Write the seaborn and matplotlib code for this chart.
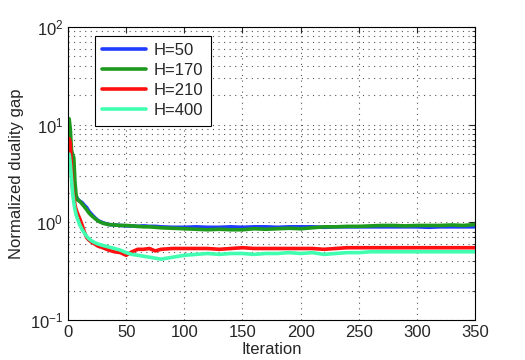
import numpy as np
import pandas as pd
import matplotlib
matplotlib.use('Agg')
import matplotlib.pyplot as plt
import seaborn as sns

sns.set_style('white')
plt.rcParams['font.family'] = ['Liberation Sans', 'DejaVu Sans']
plt.rcParams['mathtext.default'] = 'regular'

iters = [1, 2, 3, 4, 5, 6, 7, 8, 10, 12, 14, 16, 18, 20, 23, 26, 30, 35, 40, 45, 50,
         55, 60, 65, 70, 75, 80, 90, 100, 110, 120, 130, 140, 150, 160, 170, 180,
         190, 200, 210, 220, 230, 240, 250, 260, 270, 280, 290, 300, 310, 320,
         330, 340, 350]

h50 = [9.5, 6.5, 4.2, 3.0, 2.4, 2.0, 1.85, 1.75, 1.65, 1.6, 1.5, 1.42, 1.3, 1.22,
       1.12, 1.04, 0.99, 0.95, 0.94, 0.93, 0.92, 0.92, 0.91, 0.92, 0.91, 0.91,
       0.9, 0.89, 0.89, 0.9, 0.89, 0.89, 0.9, 0.89, 0.9, 0.9, 0.89, 0.9, 0.9,
       0.9, 0.89, 0.9, 0.9, 0.9, 0.9, 0.9, 0.9, 0.9, 0.9, 0.89, 0.9, 0.9, 0.9, 0.9]

h170 = [11.5, 9.0, 5.5, 4.9, 4.6, 2.6, 1.9, 1.7, 1.65, 1.55, 1.45, 1.35, 1.25, 1.18,
        1.1, 1.03, 0.98, 0.95, 0.94, 0.93, 0.93, 0.92, 0.91, 0.9, 0.9, 0.89,
        0.88, 0.87, 0.86, 0.85, 0.84, 0.85, 0.84, 0.84, 0.86, 0.85, 0.86, 0.87,
        0.86, 0.88, 0.9, 0.9, 0.91, 0.91, 0.92, 0.93, 0.93, 0.92, 0.93, 0.93,
        0.93, 0.94, 0.93, 0.95]

h210 = [7.2, 6.5, 3.5, 2.2, 1.8, 1.5, 1.35, 1.25, 1.1, 0.95, 0.8, 0.7, 0.66, 0.63,
        0.6, 0.57, 0.55, 0.52, 0.5, 0.49, 0.46, 0.5, 0.53, 0.53, 0.54, 0.51,
        0.53, 0.54, 0.54, 0.54, 0.54, 0.53, 0.54, 0.55, 0.54, 0.54, 0.54, 0.54,
        0.54, 0.54, 0.53, 0.54, 0.55, 0.55, 0.55, 0.55, 0.55, 0.55, 0.55, 0.55,
        0.55, 0.55, 0.55, 0.55]

h400 = [5.0, 4.0, 2.8, 2.0, 1.6, 1.35, 1.2, 1.1, 0.95, 0.85, 0.78, 0.72, 0.68, 0.65,
        0.62, 0.6, 0.58, 0.56, 0.54, 0.52, 0.49, 0.47, 0.46, 0.45, 0.44, 0.43,
        0.42, 0.44, 0.46, 0.47, 0.48, 0.47, 0.48, 0.48, 0.47, 0.48, 0.48, 0.49,
        0.48, 0.49, 0.47, 0.48, 0.49, 0.49, 0.5, 0.5, 0.5, 0.5, 0.5, 0.5, 0.5,
        0.5, 0.5, 0.5]

labels = ['H=50', 'H=170', 'H=210', 'H=400']
colors = ['#1f3cff', '#1d9a1d', '#ff1010', '#40ffb0']


def main():
    frames = []
    for lab, vals in zip(labels, [h50, h170, h210, h400]):
        frames.append(pd.DataFrame({'Iteration': iters, 'gap': vals, 'series': lab}))
    data = pd.concat(frames)

    fig = plt.figure(figsize=(5.25, 3.6), dpi=100)
    ax = fig.add_axes([0.1295, 0.111, 0.7755, 0.814])
    sns.lineplot(data=data, x='Iteration', y='gap', hue='series',
                 palette=colors, linewidth=2.6, ax=ax)
    ax.set_yscale('log')
    ax.set_xlim(0, 350)
    ax.set_ylim(0.1, 100)
    ax.set_xticks(range(0, 351, 50))
    ax.set_xlabel('Iteration', fontsize=12, labelpad=1.5)
    ax.set_ylabel('Normalized duality gap', fontsize=12)
    ax.tick_params(which='both', direction='in', top=True, right=True, labelsize=12)
    ax.tick_params(which='major', length=4)
    ax.tick_params(which='minor', length=2)
    ax.grid(which='major', ls=(0, (1, 4)), color='#555555', lw=0.8)
    ax.grid(which='minor', axis='y', ls=(0, (1, 4)), color='#555555', lw=0.8)
    for s in ax.spines.values():
        s.set_color('black')
        s.set_linewidth(0.8)
    leg = ax.legend(loc='upper left', bbox_to_anchor=(0.066, 0.97), fontsize=12,
                    fancybox=False, framealpha=1, edgecolor='black',
                    handlelength=2.6, borderpad=0.45, labelspacing=0.3,
                    borderaxespad=0, handletextpad=0.5)
    leg.get_frame().set_linewidth(0.8)
    fig.savefig('out.png', dpi=100)
    plt.close()


if __name__ == '__main__':
    main()
